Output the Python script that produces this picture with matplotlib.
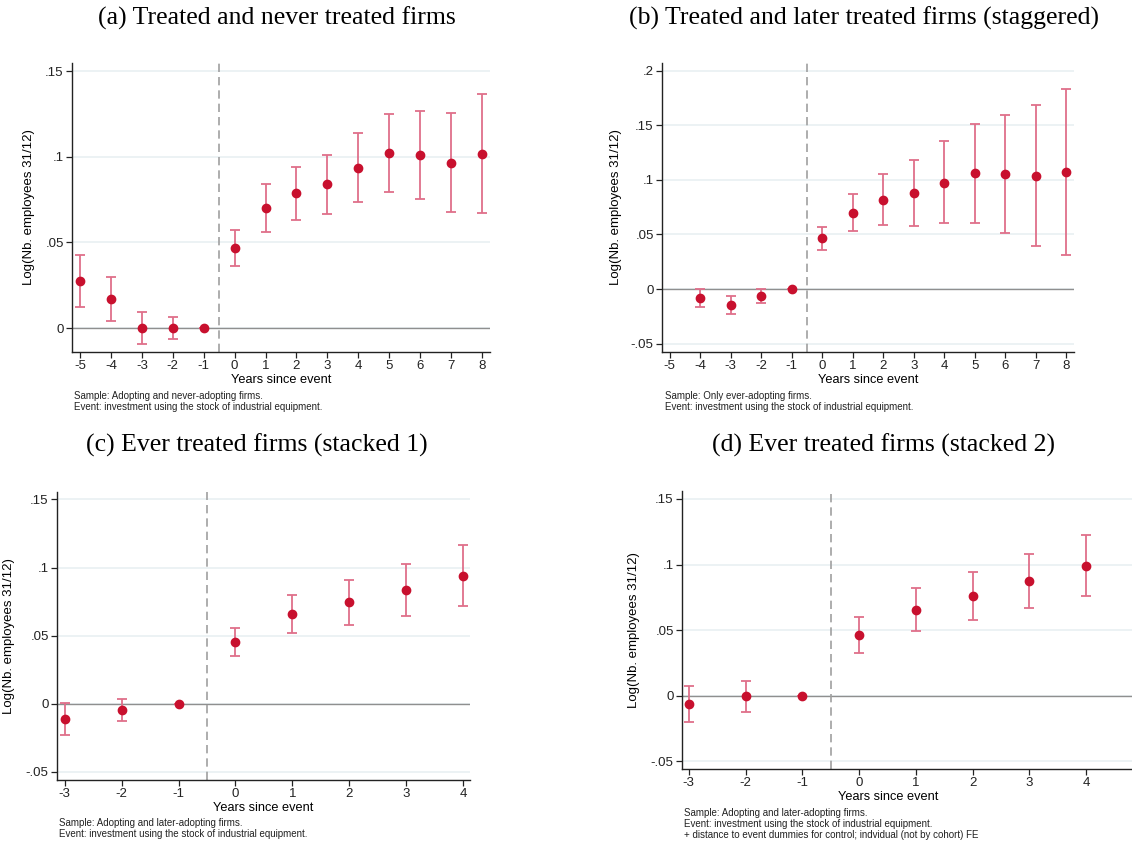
import matplotlib
matplotlib.use("Agg")
import matplotlib.pyplot as plt
import numpy as np

# ---- data ----
# (a) treated vs never treated
years_a = [-5, -4, -3, -2, -1, 0, 1, 2, 3, 4, 5, 6, 7, 8]
coef_a = [0.0272, 0.0169, 0.0, 0.0, 0.0, 0.0469, 0.0702, 0.0786, 0.0839, 0.0936, 0.1021, 0.1012, 0.0961, 0.1016]
lo_a = [0.0123, 0.0043, -0.0091, -0.0066, 0.0, 0.0364, 0.0562, 0.0632, 0.0665, 0.0733, 0.0792, 0.0755, 0.0675, 0.0669]
hi_a = [0.0424, 0.0296, 0.0091, 0.0062, 0.0, 0.0574, 0.0842, 0.0942, 0.1012, 0.1136, 0.1249, 0.1268, 0.1253, 0.1364]

# (b) treated vs later treated (staggered)
years_b = [-4, -3, -2, -1, 0, 1, 2, 3, 4, 5, 6, 7, 8]
coef_b = [-0.0082, -0.0147, -0.0061, 0.0, 0.0464, 0.0699, 0.0818, 0.0876, 0.0974, 0.1059, 0.1053, 0.1038, 0.1071]
lo_b = [-0.0165, -0.0229, -0.0128, 0.0, 0.0357, 0.0528, 0.0583, 0.0574, 0.0601, 0.0604, 0.0510, 0.0394, 0.0314]
hi_b = [0.0003, -0.0061, 0.0003, 0.0, 0.0571, 0.0870, 0.1056, 0.1181, 0.1352, 0.1514, 0.1593, 0.1682, 0.1832]

# (c) ever treated, stacked 1
years_c = [-3, -2, -1, 0, 1, 2, 3, 4]
coef_c = [-0.0110, -0.0049, 0.0, 0.0457, 0.0662, 0.0745, 0.0835, 0.0940]
lo_c = [-0.0227, -0.0129, 0.0, 0.0354, 0.0523, 0.0581, 0.0645, 0.0718]
hi_c = [0.0007, 0.0037, 0.0, 0.0559, 0.0801, 0.0908, 0.1026, 0.1165]

# (d) ever treated, stacked 2
years_d = [-3, -2, -1, 0, 1, 2, 3, 4]
coef_d = [-0.0066, -0.0005, 0.0, 0.0462, 0.0657, 0.0759, 0.0873, 0.0990]
lo_d = [-0.0203, -0.0124, 0.0, 0.0325, 0.0492, 0.0576, 0.0665, 0.0759]
hi_d = [0.0074, 0.0114, 0.0, 0.0599, 0.0820, 0.0942, 0.1081, 0.1221]

titles = ["(a) Treated and never treated firms",
          "(b) Treated and later treated firms (staggered)",
          "(c) Ever treated firms (stacked 1)",
          "(d) Ever treated firms (stacked 2)"]

notes = [["Sample: Adopting and never-adopting firms.",
          "Event: investment using the stock of industrial equipment."],
         ["Sample: Only ever-adopting firms.",
          "Event: investment using the stock of industrial equipment."],
         ["Sample: Adopting and later-adopting firms.",
          "Event: investment using the stock of industrial equipment."],
         ["Sample: Adopting and later-adopting firms.",
          "Event: investment using the stock of industrial equipment.",
          "+ distance to event dummies for control; indvidual (not by cohort) FE"]]

yticks_a = [0, 0.05, 0.1, 0.15]
ylabels_a = ["0", ".05", ".1", ".15"]
yticks_b = [-0.05, 0, 0.05, 0.1, 0.15, 0.2]
ylabels_b = ["-.05", "0", ".05", ".1", ".15", ".2"]
yticks_cd = [-0.05, 0, 0.05, 0.1, 0.15]
ylabels_cd = ["-.05", "0", ".05", ".1", ".15"]

W, H = 1132, 848
DOT = "#c8102e"
BAR = "#df6f8a"

plt.rcParams["font.family"] = ["Liberation Sans", "DejaVu Sans"]

fig = plt.figure(figsize=(W / 100, H / 100), dpi=100)


def px_axes(left, top, right, bottom):
    return fig.add_axes([left / W, 1 - bottom / H, (right - left) / W, (bottom - top) / H])


def panel(ax, years, coef, lo, hi, xlim, ylim, yticks, ylabels, xticks, ylab_x):
    coef = np.array(coef)
    err = [coef - np.array(lo), np.array(hi) - coef]
    for t in yticks:
        ax.axhline(t, color="#eaf1f3", lw=1.3, zorder=0)
    ax.axhline(0, color="#8f8f8f", lw=1.0, zorder=1)
    ax.axvline(-0.5, color="#a0a0a0", lw=1.2, ls=(0, (5, 3)), zorder=1)
    ax.errorbar(years, coef, yerr=err, fmt="none", ecolor=BAR, elinewidth=1.3,
                capsize=3.5, capthick=1.3, zorder=2)
    ax.plot(years, coef, "o", color=DOT, ms=6, zorder=3)
    ax.set_xlim(*xlim)
    ax.set_ylim(*ylim)
    ax.set_yticks(yticks)
    ax.set_yticklabels(ylabels)
    ax.set_xticks(xticks)
    ax.set_xticklabels([str(x) for x in xticks])
    ax.tick_params(axis="both", labelsize=9.5, length=4, width=0.9, colors="#222222", pad=2)
    for s in ["top", "right"]:
        ax.spines[s].set_visible(False)
    for s in ["left", "bottom"]:
        ax.spines[s].set_linewidth(1.0)
        ax.spines[s].set_color("#222222")
    ax.set_xlabel("Years since event", fontsize=9.2, labelpad=1)
    ax.set_ylabel("Log(Nb. employees 31/12)", fontsize=9.5)
    ax.yaxis.set_label_coords(ylab_x, 0.5)


ax_a = px_axes(72, 63, 490, 352)
panel(ax_a, years_a, coef_a, lo_a, hi_a, (-5.26, 8.26), (-0.014, 0.1547),
      yticks_a, ylabels_a, list(range(-5, 9)), -0.088)

ax_b = px_axes(662, 63, 1074, 352)
panel(ax_b, years_b, coef_b, lo_b, hi_b, (-5.25, 8.25), (-0.0577, 0.207),
      yticks_b, ylabels_b, list(range(-5, 9)), -0.097)

ax_c = px_axes(57, 492, 470, 780)
panel(ax_c, years_c, coef_c, lo_c, hi_c, (-3.135, 4.12), (-0.0559, 0.1554),
      yticks_cd, ylabels_cd, list(range(-3, 5)), -0.102)

# panel (d) runs off the right edge of the picture
ax_d = px_axes(682, 491, 1132, 769)
panel(ax_d, years_d, coef_d, lo_d, hi_d, (-3.12, 4.81), (-0.0558, 0.156),
      yticks_cd, ylabels_cd, list(range(-3, 5)), -0.093)
ax_d.xaxis.label.set_x(0.458)

title_pos = [(277, 18), (864, 18), (257, 445), (884, 445)]
for (x, y), t in zip(title_pos, titles):
    fig.text(x / W, 1 - y / H, t, ha="center", va="center", fontsize=18.5,
             family=["Liberation Serif", "DejaVu Serif"])

note_pos = [(74, 391), (665, 391), (59, 818), (684, 808)]
for (x, y), lines in zip(note_pos, notes):
    fig.text(x / W, 1 - y / H, "\n".join(lines), ha="left", va="top", fontsize=7,
             linespacing=1.15, color="#222222")

fig.savefig("out.png", dpi=100)
